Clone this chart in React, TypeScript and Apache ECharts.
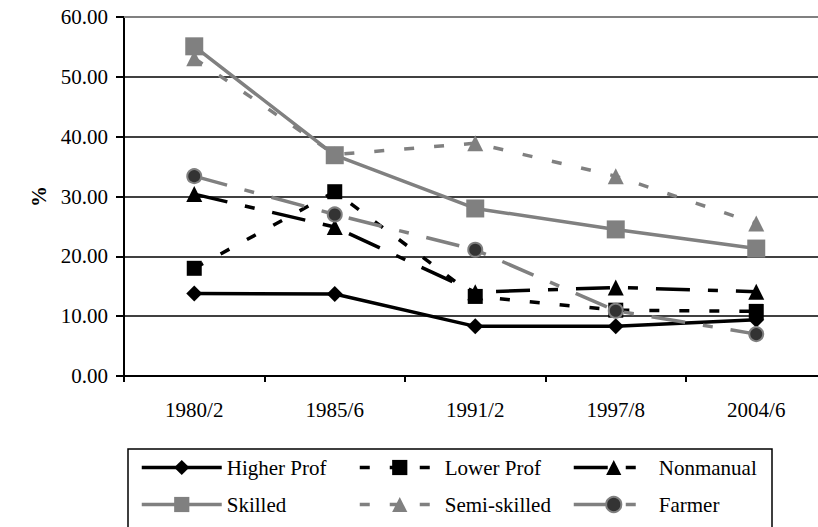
import React, { useEffect, useRef } from "react";
import * as echarts from "echarts";

const categories = ["1980/2", "1985/6", "1991/2", "1997/8", "2004/6"];
const higherProf = [13.8, 13.7, 8.3, 8.3, 9.4];
const lowerProf = [18.0, 30.8, 13.3, 11.0, 10.8];
const nonmanual = [30.4, 24.9, 14.0, 14.8, 14.1];
const skilled = [55.1, 36.9, 28.0, 24.5, 21.3];
const semiSkilled = [53.1, 37.0, 38.9, 33.4, 25.5];
const farmer = [33.4, 27.0, 21.1, 10.9, 7.0];
const seriesNames = ["Higher Prof", "Lower Prof", "Nonmanual", "Skilled", "Semi-skilled", "Farmer"];

const FONT = '"Liberation Serif", "Times New Roman", serif';
const BLACK = "#000000";
const GRAY = "#808080";
const SHORT_DASH = [10, 20];
const DASH_DOT = [34, 18, 10, 18];
const FS = 21;

export default function App() {
  const ref = useRef<HTMLDivElement>(null);

  useEffect(() => {
    document.body.style.margin = "0";
    if (!ref.current) return;
    const chart = echarts.init(ref.current, null, { renderer: "svg" });

    const mk = (
      name: string,
      data: number[],
      color: string,
      type: any,
      symbol: string,
      symbolSize: number,
      z: number,
      fill?: string
    ) => ({
      name,
      type: "line",
      data,
      symbol,
      symbolSize,
      z,
      lineStyle: { color, width: 3.5, type, cap: "butt" },
      itemStyle: {
        color: fill || color,
        borderColor: color,
        borderWidth: fill ? 2 : 0,
      },
    });

    const legendPos = [
      { left: 140, top: 457 },
      { left: 358, top: 457 },
      { left: 572, top: 457 },
      { left: 140, top: 494 },
      { left: 358, top: 494 },
      { left: 572, top: 494 },
    ];

    const option: any = {
      animation: false,
      backgroundColor: "#ffffff",
      grid: {
        left: 124,
        top: 17,
        width: 702.5,
        height: 359,
        containLabel: false,
        outerBoundsMode: "none",
      },
      xAxis: {
        type: "category",
        data: categories,
        boundaryGap: true,
        axisLine: { show: true, lineStyle: { color: BLACK, width: 2 } },
        axisTick: { show: true, length: 6, lineStyle: { color: BLACK, width: 2 } },
        axisLabel: { color: BLACK, fontFamily: FONT, fontSize: FS, margin: 23 },
        splitLine: { show: false },
      },
      yAxis: {
        type: "value",
        min: 0,
        max: 60,
        interval: 10,
        name: "%",
        nameLocation: "middle",
        nameRotate: 90,
        nameGap: 73,
        nameTextStyle: { color: BLACK, fontFamily: FONT, fontSize: FS, fontWeight: "bold" },
        axisLine: { show: true, lineStyle: { color: BLACK, width: 2 } },
        axisTick: { show: true, length: 8, lineStyle: { color: BLACK, width: 2 } },
        axisLabel: {
          color: BLACK,
          fontFamily: FONT,
          fontSize: FS,
          margin: 16,
          formatter: (v: number) => v.toFixed(2),
        },
        splitLine: { show: true, showMaxLine: false, lineStyle: { color: BLACK, width: 1.6 } },
      },
      legend: seriesNames.map((n, i) => ({
        data: [n],
        left: legendPos[i].left,
        top: legendPos[i].top,
        padding: 0,
        itemWidth: 80,
        itemHeight: 19,
        itemGap: 0,
        selectedMode: false,
        textStyle: { color: BLACK, fontFamily: FONT, fontSize: FS },
        lineStyle: { width: 3.5 },
      })),
      graphic: [
        {
          type: "line",
          shape: { x1: 124, y1: 17, x2: 818, y2: 17 },
          style: { stroke: GRAY, lineWidth: 2 },
          z: 1,
        },
        {
          type: "rect",
          shape: { x: 128, y: 449, width: 644, height: 100 },
          style: { fill: "none", stroke: BLACK, lineWidth: 1.5 },
          z: 1,
        },
      ],
      series: [
        mk(seriesNames[0], higherProf, BLACK, "solid", "diamond", 16, 2),
        mk(seriesNames[1], lowerProf, BLACK, SHORT_DASH, "rect", 15, 2),
        mk(seriesNames[2], nonmanual, BLACK, DASH_DOT, "triangle", 16, 2),
        mk(seriesNames[3], skilled, GRAY, "solid", "rect", 18, 4),
        mk(seriesNames[4], semiSkilled, GRAY, SHORT_DASH, "triangle", 16, 3),
        mk(seriesNames[5], farmer, GRAY, DASH_DOT, "circle", 14, 3, "#333333"),
      ],
    };

    chart.setOption(option);
    return () => chart.dispose();
  }, []);

  return <div ref={ref} style={{ width: 818, height: 527 }} />;
}
